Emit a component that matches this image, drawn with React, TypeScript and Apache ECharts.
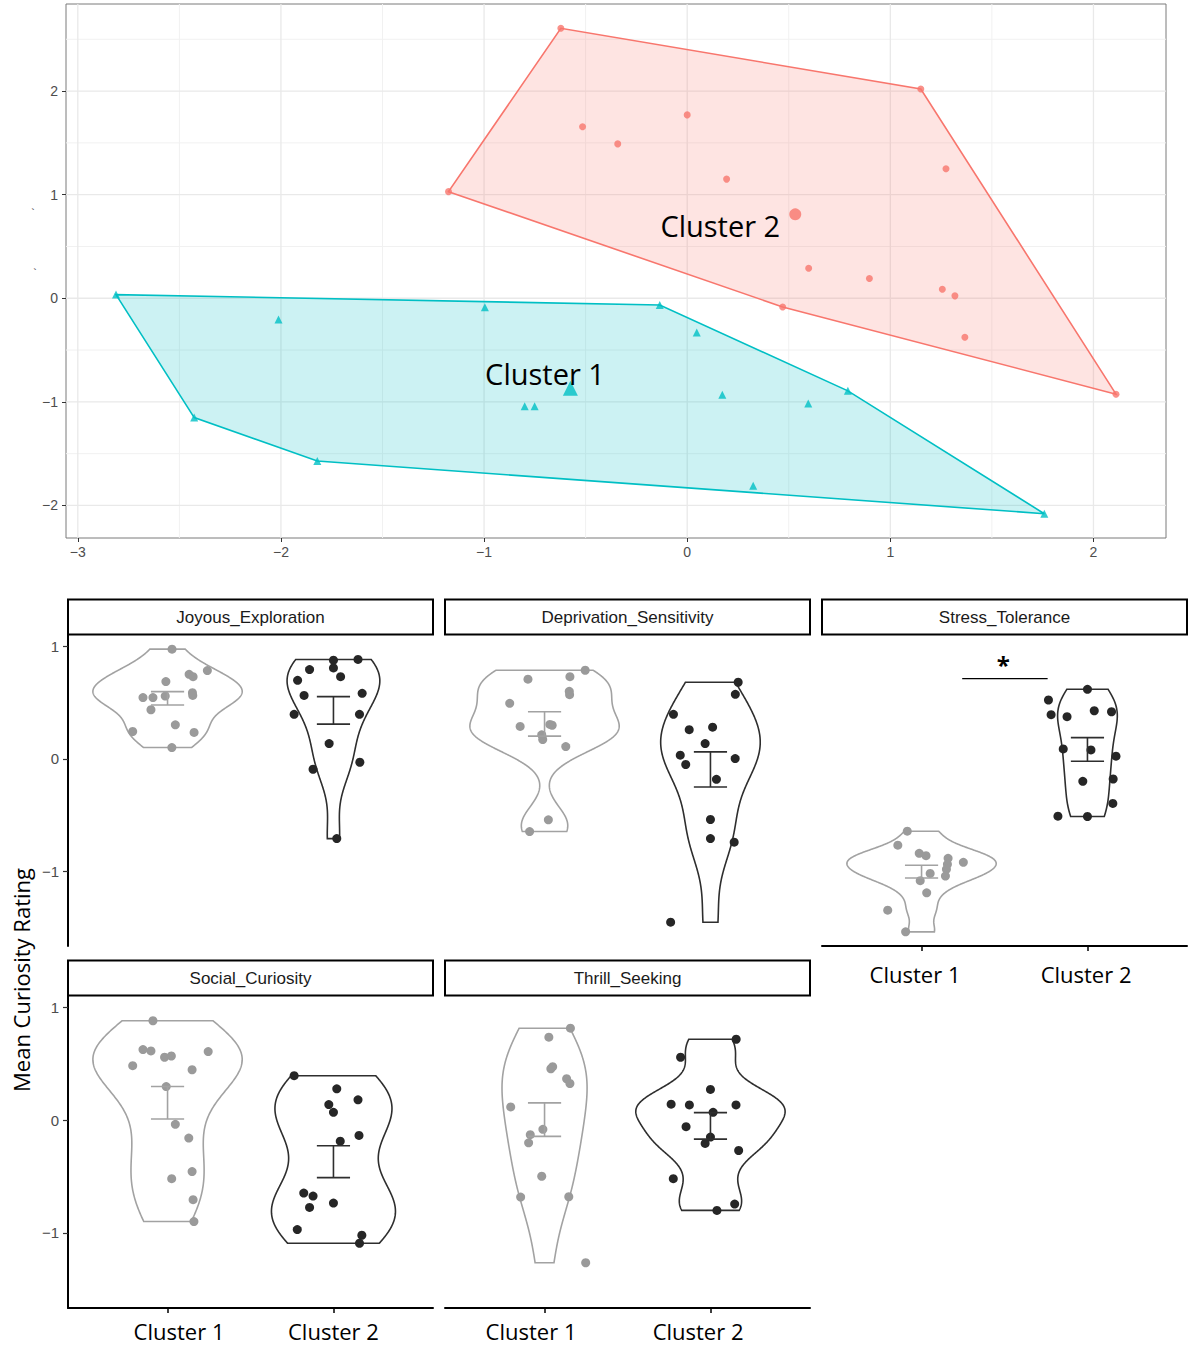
import React, { useEffect, useRef } from "react";
import * as echarts from "echarts";

const LABEL_FONT = "'Open Sans', 'DejaVu Sans', sans-serif";
const AXIS_FONT = "'Liberation Sans', Arial, Helvetica, sans-serif";

// ================= Cluster map (top) =================
const cluster1X = [-2.812, -2.012, -0.996, -2.427, -1.821, -0.8, -0.751, -0.135, 0.047, 0.173, 0.596, 0.791, 0.325, 1.758];
const cluster1Y = [0.035, -0.206, -0.087, -1.152, -1.571, -1.042, -1.042, -0.065, -0.33, -0.932, -1.016, -0.894, -1.81, -2.08];
const cluster2X = [-0.622, 1.15, -1.175, 2.111, 0.47, -0.515, -0.342, 0.0, 0.194, 1.274, 0.598, 0.897, 1.256, 1.318, 1.367];
const cluster2Y = [2.606, 2.02, 1.029, -0.926, -0.084, 1.655, 1.49, 1.77, 1.15, 1.25, 0.29, 0.19, 0.087, 0.023, -0.377];
const centroid1 = [-0.575, -0.868];
const centroid2 = [0.532, 0.81];
const clusterNames = ["Cluster 1", "Cluster 2"];
const clusterLabelPos = [
  [-0.7, -0.73],
  [0.163, 0.705],
];
const mapXTicks = [-3, -2, -1, 0, 1, 2];
const mapYTicks = [-2, -1, 0, 1, 2];
const mapXMinor = [-2.5, -1.5, -0.5, 0.5, 1.5];
const mapYMinor = [-1.5, -0.5, 0.5, 1.5, 2.5];

// ================= Violin panels (bottom) =================
const panelTitles = ["Joyous_Exploration", "Deprivation_Sensitivity", "Stress_Tolerance", "Social_Curiosity", "Thrill_Seeking"];
const groupLabels = ["Cluster 1", "Cluster 2"];
const violinYTicks = [-1, 0, 1];
const groupTicks = [1, 2];

const joyC1Y = [0.978, 0.787, 0.754, 0.733, 0.689, 0.59, 0.566, 0.546, 0.546, 0.56, 0.438, 0.304, 0.244, 0.236, 0.101];
const joyC1Jit = [0.027, 0.24, 0.13, 0.154, -0.01, 0.15, 0.152, -0.148, -0.088, -0.014, -0.1, 0.047, -0.21, 0.16, 0.026];
const joyC2Y = [0.886, 0.88, 0.811, 0.796, 0.733, 0.7, 0.566, 0.584, 0.397, 0.397, 0.137, -0.03, -0.092, -0.71];
const joyC2Jit = [0.148, 0, 0, -0.144, 0.043, -0.216, -0.177, 0.173, -0.237, 0.157, -0.026, 0.159, -0.123, 0.02];
const joyErr = [[0.48, 0.599], [0.31, 0.555]];

const depC1Y = [0.79, 0.733, 0.71, 0.602, 0.572, 0.495, 0.289, 0.307, 0.3, 0.215, 0.173, 0.11, -0.543, -0.647];
const depC1Jit = [0.245, 0.153, -0.1, 0.149, 0.151, -0.21, -0.147, 0.032, 0.046, -0.017, -0.011, 0.128, 0.023, -0.09];
const depC2Y = [0.683, 0.575, 0.397, 0.26, 0.283, 0.137, 0.033, -0.05, 0.003, -0.182, -0.54, -0.71, -0.742, -1.455];
const depC2Jit = [0.167, 0.15, -0.223, -0.128, 0.013, -0.032, -0.182, -0.149, 0.149, 0.036, 0, 0, 0.143, -0.24];
const depErr = [[0.203, 0.42], [-0.25, 0.063]];

const strC1Y = [-0.644, -0.769, -0.841, -0.862, -0.886, -0.921, -0.939, -0.984, -1.02, -1.044, -1.085, -1.193, -1.348, -1.541];
const strC1Jit = [-0.086, -0.143, -0.014, 0.027, 0.16, 0.252, 0.156, 0.15, 0.052, 0.144, -0.008, 0.031, -0.204, -0.096];
const strC2Y = [0.62, 0.525, 0.394, 0.376, 0.429, 0.42, 0.089, 0.08, 0.024, -0.2, -0.179, -0.397, -0.51, -0.513];
const strC2Jit = [0, -0.235, -0.219, -0.123, 0.041, 0.145, -0.146, 0.021, 0.172, -0.028, 0.155, 0.153, -0.178, 0];
const strErr = [[-1.061, -0.948], [-0.021, 0.19]];

const socC1Y = [0.884, 0.628, 0.616, 0.56, 0.571, 0.61, 0.485, 0.449, 0.3, -0.036, -0.158, -0.455, -0.518, -0.705, -0.899];
const socC1Jit = [-0.088, -0.148, -0.1, -0.018, 0.023, 0.245, -0.21, 0.148, -0.008, 0.047, 0.128, 0.148, 0.025, 0.154, 0.159];
const socC2Y = [0.396, 0.28, 0.182, 0.14, 0.071, -0.185, -0.134, -0.646, -0.673, -0.774, -0.735, -0.97, -1.021, -1.092];
const socC2Jit = [-0.237, 0.02, 0.148, -0.028, 0, 0.041, 0.154, -0.179, -0.123, -0.144, 0, -0.218, 0.171, 0.157];
const socErr = [[0.012, 0.3], [-0.509, -0.226]];

const thrC1Y = [0.818, 0.738, 0.458, 0.476, 0.369, 0.327, 0.119, -0.08, -0.128, -0.2, -0.497, -0.682, -0.679, -1.265];
const thrC1Jit = [0.156, 0.026, 0.038, 0.049, 0.133, 0.153, -0.204, -0.01, -0.086, -0.096, -0.017, -0.144, 0.146, 0.248];
const thrC2Y = [0.72, 0.56, 0.274, 0.143, 0.137, 0.137, 0.071, -0.057, -0.149, -0.205, -0.268, -0.518, -0.744, -0.8];
const thrC2Jit = [0.155, -0.18, 0, -0.237, -0.127, 0.154, 0.016, -0.147, 0, -0.032, 0.17, -0.224, 0.146, 0.039];
const thrErr = [[-0.143, 0.155], [-0.167, 0.068]];

// significance marker in Stress_Tolerance
const sigBarX = [1.245, 1.76];
const sigBarY = 0.716;
const sigStarPos = [1.493, 0.84];
const sigText = "*";

// ---------- helpers ----------
const fmtNum = (v: number) => (v < 0 ? "\u2212" + Math.abs(v) : String(v));

function expand(vals: number[], f = 0.05): [number, number] {
  const lo = Math.min(...vals);
  const hi = Math.max(...vals);
  const r = hi - lo;
  return [lo - r * f, hi + r * f];
}

function convexHull(xs: number[], ys: number[]): number[][] {
  const pts = xs.map((x, i) => [x, ys[i]]).sort((a, b) => a[0] - b[0] || a[1] - b[1]);
  const cross = (o: number[], a: number[], b: number[]) => (a[0] - o[0]) * (b[1] - o[1]) - (a[1] - o[1]) * (b[0] - o[0]);
  const lower: number[][] = [];
  for (const p of pts) {
    while (lower.length >= 2 && cross(lower[lower.length - 2], lower[lower.length - 1], p) <= 0) lower.pop();
    lower.push(p);
  }
  const upper: number[][] = [];
  for (let i = pts.length - 1; i >= 0; i--) {
    const p = pts[i];
    while (upper.length >= 2 && cross(upper[upper.length - 2], upper[upper.length - 1], p) <= 0) upper.pop();
    upper.push(p);
  }
  upper.pop();
  lower.pop();
  return lower.concat(upper);
}

function quantile(s: number[], p: number) {
  const h = (s.length - 1) * p;
  const lo = Math.floor(h);
  const hi = Math.min(lo + 1, s.length - 1);
  return s[lo] + (h - lo) * (s[hi] - s[lo]);
}

function density(vals: number[]) {
  const n = vals.length;
  const mean = vals.reduce((a, b) => a + b, 0) / n;
  const sd = Math.sqrt(vals.reduce((a, b) => a + (b - mean) * (b - mean), 0) / (n - 1));
  const s = [...vals].sort((a, b) => a - b);
  const iqr = quantile(s, 0.75) - quantile(s, 0.25);
  const bw = 0.9 * Math.min(sd, iqr / 1.34) * Math.pow(n, -0.2);
  const lo = s[0];
  const hi = s[n - 1];
  const N = 256;
  const ys: number[] = [];
  const ds: number[] = [];
  for (let i = 0; i < N; i++) {
    const y = lo + ((hi - lo) * i) / (N - 1);
    let d = 0;
    for (const v of vals) {
      const z = (y - v) / bw;
      d += Math.exp(-0.5 * z * z);
    }
    ys.push(y);
    ds.push(d / (n * bw * Math.sqrt(2 * Math.PI)));
  }
  return { ys, ds };
}

type Group = { y: number[]; jit: number[]; err: number[] };
type Panel = { title: string; groups: Group[]; col: number; row: number; showX: boolean; showY: boolean };

const panels: Panel[] = [
  { title: panelTitles[0], groups: [{ y: joyC1Y, jit: joyC1Jit, err: joyErr[0] }, { y: joyC2Y, jit: joyC2Jit, err: joyErr[1] }], col: 0, row: 0, showX: false, showY: true },
  { title: panelTitles[1], groups: [{ y: depC1Y, jit: depC1Jit, err: depErr[0] }, { y: depC2Y, jit: depC2Jit, err: depErr[1] }], col: 1, row: 0, showX: false, showY: false },
  { title: panelTitles[2], groups: [{ y: strC1Y, jit: strC1Jit, err: strErr[0] }, { y: strC2Y, jit: strC2Jit, err: strErr[1] }], col: 2, row: 0, showX: true, showY: false },
  { title: panelTitles[3], groups: [{ y: socC1Y, jit: socC1Jit, err: socErr[0] }, { y: socC2Y, jit: socC2Jit, err: socErr[1] }], col: 0, row: 1, showX: true, showY: true },
  { title: panelTitles[4], groups: [{ y: thrC1Y, jit: thrC1Jit, err: thrErr[0] }, { y: thrC2Y, jit: thrC2Jit, err: thrErr[1] }], col: 1, row: 1, showX: true, showY: false },
];

// layout (pixels)
const MAP = { left: 66, top: 4, width: 1100, height: 534 };
const COL_LEFT = [68, 445, 822];
const PANEL_W = 365;
const ROW_TOP = [635, 996];
const ROW_H = [311, 312];
const STRIP_H = 35;
// horizontal nudge (px) of the category labels relative to their ticks, per panel
const LABEL_SHIFT: Record<number, number[]> = { 2: [-6.5, -1.4], 3: [11.5, 0], 4: [-13.5, -12.4] };

const pointColor = ["#9A9A9A", "#262626"];
const lineColor = ["#A2A2A2", "#2E2E2E"];
const RED = "#F8766D";
const TEAL = "#00BFC4";

function padFor(shift: number) {
  return shift >= 0 ? [0, 0, 0, 2 * shift] : [0, -2 * shift, 0, 0];
}

function buildOption() {
  const [mxMin, mxMax] = expand([...cluster1X, ...cluster2X]);
  const [myMin, myMax] = expand([...cluster1Y, ...cluster2Y]);
  const allV: number[] = [];
  panels.forEach((p) => p.groups.forEach((g) => allV.push(...g.y)));
  const [vMin, vMax] = expand(allV);

  const hull1 = convexHull(cluster1X, cluster1Y);
  const hull2 = convexHull(cluster2X, cluster2Y);

  const grids: any[] = [{ ...MAP, show: true, borderColor: "#7A7A7A", borderWidth: 1, backgroundColor: "#fff" }];
  const xAxes: any[] = [
    {
      gridIndex: 0, type: "value", min: mxMin, max: mxMax,
      splitLine: { show: false }, axisLine: { show: false, onZero: false },
      axisTick: { show: true, length: 4, customValues: mapXTicks, lineStyle: { color: "#333", width: 1 } },
      axisLabel: { customValues: mapXTicks, formatter: fmtNum, color: "#4D4D4D", fontSize: 14, margin: 7, fontFamily: AXIS_FONT },
    },
  ];
  const yAxes: any[] = [
    {
      gridIndex: 0, type: "value", min: myMin, max: myMax,
      splitLine: { show: false }, axisLine: { show: false, onZero: false },
      axisTick: { show: true, length: 4, customValues: mapYTicks, lineStyle: { color: "#333", width: 1 } },
      axisLabel: { customValues: mapYTicks, formatter: fmtNum, color: "#4D4D4D", fontSize: 14, margin: 8, fontFamily: AXIS_FONT },
    },
  ];

  const series: any[] = [
    {
      type: "custom", xAxisIndex: 0, yAxisIndex: 0, z: 1, silent: true, data: [[0, 0]],
      renderItem: (params: any, api: any) => {
        const cs = params.coordSys;
        const children: any[] = [];
        mapXMinor.forEach((v) => {
          const x = api.coord([v, 0])[0];
          children.push({ type: "line", shape: { x1: x, y1: cs.y, x2: x, y2: cs.y + cs.height }, style: { stroke: "#F1F1F1", lineWidth: 1 } });
        });
        mapYMinor.forEach((v) => {
          const y = api.coord([0, v])[1];
          children.push({ type: "line", shape: { x1: cs.x, y1: y, x2: cs.x + cs.width, y2: y }, style: { stroke: "#F1F1F1", lineWidth: 1 } });
        });
        mapXTicks.forEach((v) => {
          const x = api.coord([v, 0])[0];
          children.push({ type: "line", shape: { x1: x, y1: cs.y, x2: x, y2: cs.y + cs.height }, style: { stroke: "#E9E9E9", lineWidth: 1.3 } });
        });
        mapYTicks.forEach((v) => {
          const y = api.coord([0, v])[1];
          children.push({ type: "line", shape: { x1: cs.x, y1: y, x2: cs.x + cs.width, y2: y }, style: { stroke: "#E9E9E9", lineWidth: 1.3 } });
        });
        return { type: "group", children };
      },
    },
    ...[
      { hull: hull2, color: RED, fill: "rgba(248,118,109,0.2)" },
      { hull: hull1, color: TEAL, fill: "rgba(0,191,196,0.2)" },
    ].map((h) => ({
      type: "custom", xAxisIndex: 0, yAxisIndex: 0, z: 2, silent: true, data: [[0, 0]],
      renderItem: (_p: any, api: any) => ({
        type: "polygon",
        shape: { points: h.hull.map((p) => api.coord(p)) },
        style: { fill: h.fill, stroke: h.color, lineWidth: 1.6 },
      }),
    })),
    {
      type: "scatter", xAxisIndex: 0, yAxisIndex: 0, z: 3, symbol: "circle", symbolSize: 7,
      itemStyle: { color: RED }, data: cluster2X.map((x, i) => [x, cluster2Y[i]]),
    },
    {
      type: "scatter", xAxisIndex: 0, yAxisIndex: 0, z: 3, symbol: "triangle", symbolSize: 8,
      itemStyle: { color: TEAL }, data: cluster1X.map((x, i) => [x, cluster1Y[i]]),
    },
    { type: "scatter", xAxisIndex: 0, yAxisIndex: 0, z: 3, symbol: "circle", symbolSize: 12, itemStyle: { color: RED }, data: [centroid2] },
    { type: "scatter", xAxisIndex: 0, yAxisIndex: 0, z: 3, symbol: "triangle", symbolSize: 15, itemStyle: { color: TEAL }, data: [centroid1] },
    {
      type: "custom", xAxisIndex: 0, yAxisIndex: 0, z: 4, silent: true,
      data: clusterLabelPos,
      renderItem: (params: any, api: any) => {
        const p = api.coord([api.value(0), api.value(1)]);
        return {
          type: "text", x: p[0], y: p[1],
          style: { text: clusterNames[params.dataIndex], fill: "#000", font: `29px ${LABEL_FONT}`, align: "center", verticalAlign: "middle", textAlign: "center", textVerticalAlign: "middle" },
        };
      },
    },
  ];

  const graphics: any[] = [];

  panels.forEach((p, pi) => {
    const gi = pi + 1;
    const left = COL_LEFT[p.col];
    const top = ROW_TOP[p.row];
    const h = ROW_H[p.row];
    const shift = LABEL_SHIFT[pi] || [0, 0];
    grids.push({ left, top, width: PANEL_W, height: h, show: false });
    xAxes.push({
      gridIndex: gi, type: "value", min: 0.4, max: 2.6, show: p.showX, position: "bottom",
      splitLine: { show: false },
      axisLine: { show: true, onZero: false, lineStyle: { color: "#000", width: 2 } },
      axisTick: { show: true, length: 5, customValues: groupTicks, lineStyle: { color: "#000", width: 1.5 } },
      axisLabel: {
        customValues: groupTicks,
        formatter: (v: number) => `{g${Math.round(v)}|${groupLabels[Math.round(v) - 1]}}`,
        color: "#000", fontSize: 22, margin: p.row === 0 ? 17 : 12, fontFamily: LABEL_FONT,
        rich: {
          g1: { fontSize: 22, fontFamily: LABEL_FONT, color: "#000", padding: padFor(shift[0]) },
          g2: { fontSize: 22, fontFamily: LABEL_FONT, color: "#000", padding: padFor(shift[1]) },
        },
      },
    });
    yAxes.push({
      gridIndex: gi, type: "value", min: vMin, max: vMax, show: p.showY, position: "left",
      splitLine: { show: false },
      axisLine: { show: true, onZero: false, lineStyle: { color: "#000", width: 2 } },
      axisTick: { show: true, length: 5, customValues: violinYTicks, lineStyle: { color: "#333", width: 1.2 } },
      axisLabel: { customValues: violinYTicks, formatter: fmtNum, color: "#4D4D4D", fontSize: 15, margin: 9, fontFamily: AXIS_FONT },
    });

    // violins (gaussian KDE, trimmed, area-scaled within panel)
    const dens = p.groups.map((g) => density(g.y));
    const maxD = Math.max(...dens.map((d) => Math.max(...d.ds)));
    const outlines = dens.map((d, k) => {
      const c = k + 1;
      const right = d.ys.map((y, i) => [c + (0.45 * d.ds[i]) / maxD, y]);
      const leftSide = d.ys.map((y, i) => [c - (0.45 * d.ds[i]) / maxD, y]).reverse();
      return right.concat(leftSide);
    });
    series.push({
      type: "custom", xAxisIndex: gi, yAxisIndex: gi, z: 2, silent: true, clip: false,
      data: [[1, 0], [2, 0]],
      renderItem: (params: any, api: any) => ({
        type: "polygon",
        shape: { points: outlines[params.dataIndex].map((q) => api.coord(q)) },
        style: { fill: "rgba(255,255,255,0)", stroke: lineColor[params.dataIndex], lineWidth: 1.6 },
      }),
    });
    p.groups.forEach((g, k) => {
      series.push({
        type: "scatter", xAxisIndex: gi, yAxisIndex: gi, z: 3, symbol: "circle", symbolSize: 9, clip: false,
        itemStyle: { color: pointColor[k], opacity: 1 },
        data: g.jit.map((j, i) => [k + 1 + j, g.y[i]]),
      });
    });
    series.push({
      type: "custom", xAxisIndex: gi, yAxisIndex: gi, z: 4, silent: true, clip: false,
      data: p.groups.map((g, k) => [k + 1, g.err[0], g.err[1]]),
      renderItem: (params: any, api: any) => {
        const c = api.value(0);
        const lo = api.value(1);
        const hi = api.value(2);
        const col = lineColor[params.dataIndex];
        const a = api.coord([c - 0.1, hi]);
        const b = api.coord([c + 0.1, hi]);
        const d = api.coord([c - 0.1, lo]);
        const e = api.coord([c + 0.1, lo]);
        const m1 = api.coord([c, hi]);
        const m2 = api.coord([c, lo]);
        const st = { stroke: col, lineWidth: 1.6 };
        return {
          type: "group",
          children: [
            { type: "line", shape: { x1: a[0], y1: a[1], x2: b[0], y2: b[1] }, style: st },
            { type: "line", shape: { x1: d[0], y1: d[1], x2: e[0], y2: e[1] }, style: st },
            { type: "line", shape: { x1: m1[0], y1: m1[1], x2: m2[0], y2: m2[1] }, style: st },
          ],
        };
      },
    });
    if (pi === 2) {
      series.push({
        type: "custom", xAxisIndex: gi, yAxisIndex: gi, z: 4, silent: true, clip: false,
        data: [[sigStarPos[0], sigBarY]],
        renderItem: (_p: any, api: any) => {
          const a = api.coord([sigBarX[0], sigBarY]);
          const b = api.coord([sigBarX[1], sigBarY]);
          const s = api.coord(sigStarPos);
          return {
            type: "group",
            children: [
              { type: "line", shape: { x1: a[0], y1: a[1], x2: b[0], y2: b[1] }, style: { stroke: "#000", lineWidth: 1.3 } },
              { type: "text", x: s[0], y: s[1], style: { text: sigText, fill: "#000", font: `bold 24px ${LABEL_FONT}`, align: "center", verticalAlign: "middle", textAlign: "center", textVerticalAlign: "middle" } },
            ],
          };
        },
      });
    }

    // strip
    graphics.push({
      type: "rect", shape: { x: left, y: top - STRIP_H - 0.5, width: PANEL_W, height: STRIP_H },
      style: { fill: "#fff", stroke: "#000", lineWidth: 2 }, silent: true,
    });
    graphics.push({
      type: "text", x: left + PANEL_W / 2, y: top - STRIP_H / 2 - 0.5, silent: true,
      style: { text: p.title, fill: "#1A1A1A", font: `17px ${AXIS_FONT}`, align: "center", verticalAlign: "middle", textAlign: "center", textVerticalAlign: "middle" },
    });
  });

  graphics.push({
    type: "text", x: 21, y: 980, rotation: Math.PI / 2, silent: true,
    style: { text: "Mean Curiosity Rating", fill: "#000", font: `22px ${LABEL_FONT}`, align: "center", verticalAlign: "middle", textAlign: "center", textVerticalAlign: "middle" },
  });
  graphics.push({ type: "text", x: 33, y: 213, silent: true, style: { text: "`", fill: "#333", font: `11px ${AXIS_FONT}`, align: "center", verticalAlign: "middle" } });
  graphics.push({ type: "text", x: 35, y: 273, silent: true, style: { text: "`", fill: "#333", font: `11px ${AXIS_FONT}`, align: "center", verticalAlign: "middle" } });

  return {
    animation: false,
    backgroundColor: "#ffffff",
    grid: grids,
    xAxis: xAxes,
    yAxis: yAxes,
    series,
    graphic: graphics,
  };
}

export default function App() {
  const ref = useRef<HTMLDivElement>(null);
  useEffect(() => {
    if (!ref.current) return;
    const chart = echarts.init(ref.current, undefined, { renderer: "svg" });
    chart.setOption(buildOption() as any);
    return () => chart.dispose();
  }, []);
  return <div ref={ref} style={{ position: "absolute", left: 0, top: 0, width: 1189, height: 1347, background: "#fff" }} />;
}
